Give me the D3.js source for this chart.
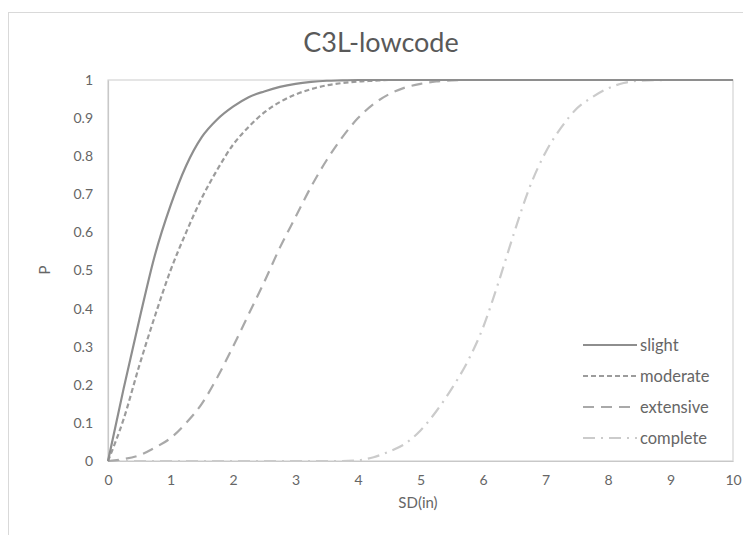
<!DOCTYPE html>
<html>
<head>
<meta charset="utf-8">
<script src="https://cdn.jsdelivr.net/npm/d3@7"></script>
<style>
  html, body { margin: 0; padding: 0; background: #ffffff; }
  svg { display: block; }
  text { font-family: Lato, "Open Sans", sans-serif; }
</style>
</head>
<body>
<svg id="chart" width="743" height="535"></svg>
<script>
// Fragility curves: probability of exceeding each damage state vs spectral displacement
const sd = [0, 0.25, 0.5, 0.75, 1, 1.25, 1.5, 1.75, 2, 2.25, 2.5, 2.75, 3, 3.25, 3.5, 3.75,
            4, 4.25, 4.5, 4.75, 5, 5.25, 5.5, 5.75, 6, 6.25, 6.5, 6.75, 7, 7.25, 7.5, 7.75,
            8, 8.25, 8.5, 9, 9.5, 10];

const slight = [0, 0.19, 0.37, 0.54, 0.67, 0.775, 0.85, 0.897, 0.93, 0.955, 0.97, 0.982, 0.99, 0.995, 0.998, 0.999,
                1, 1, 1, 1, 1, 1, 1, 1, 1, 1, 1, 1, 1, 1, 1, 1,
                1, 1, 1, 1, 1, 1];

const moderate = [0, 0.11, 0.25, 0.38, 0.5, 0.6, 0.69, 0.765, 0.83, 0.877, 0.915, 0.942, 0.962, 0.976, 0.986, 0.992,
                  0.996, 0.998, 1, 1, 1, 1, 1, 1, 1, 1, 1, 1, 1, 1, 1, 1,
                  1, 1, 1, 1, 1, 1];

const extensive = [0, 0.005, 0.015, 0.035, 0.06, 0.1, 0.15, 0.22, 0.3, 0.385, 0.47, 0.56, 0.64, 0.72, 0.79, 0.85,
                   0.9, 0.937, 0.963, 0.98, 0.99, 0.996, 0.999, 1, 1, 1, 1, 1, 1, 1, 1, 1,
                   1, 1, 1, 1, 1, 1];

const complete = [0, 0, 0, 0, 0, 0, 0, 0, 0, 0, 0, 0, 0, 0, 0, 0,
                  0.002, 0.01, 0.025, 0.045, 0.08, 0.13, 0.19, 0.26, 0.35, 0.47, 0.6, 0.72, 0.81, 0.875, 0.925, 0.955,
                  0.978, 0.992, 0.998, 1, 1, 1];

const seriesNames = ["slight", "moderate", "extensive", "complete"];
const xTicks = [0, 1, 2, 3, 4, 5, 6, 7, 8, 9, 10];
const yTicks = [0, 0.1, 0.2, 0.3, 0.4, 0.5, 0.6, 0.7, 0.8, 0.9, 1];

const series = [
  { name: seriesNames[0], values: slight,    color: "#8e8e8e", dash: null },
  { name: seriesNames[1], values: moderate,  color: "#9c9c9c", dash: "5,3" },
  { name: seriesNames[2], values: extensive, color: "#a9a9a9", dash: "11,7" },
  { name: seriesNames[3], values: complete,  color: "#cbcbcb", dash: "12,6,2,6" }
];

const svg = d3.select("#chart");
const plot = { left: 108, right: 733, top: 80, bottom: 461 };

const x = d3.scaleLinear().domain([0, 10]).range([plot.left, plot.right]);
const y = d3.scaleLinear().domain([0, 1]).range([plot.bottom, plot.top]);

// outer chart frame
svg.append("rect")
  .attr("x", 8.5).attr("y", 12.5)
  .attr("width", 760).attr("height", 540)
  .attr("fill", "none").attr("stroke", "#d9d9d9").attr("stroke-width", 1);

// plot frame
svg.append("rect")
  .attr("x", plot.left).attr("y", plot.top)
  .attr("width", plot.right - plot.left).attr("height", plot.bottom - plot.top)
  .attr("fill", "none").attr("stroke", "#d4d4d4").attr("stroke-width", 1.2);

// title
svg.append("text")
  .attr("x", 381).attr("y", 52)
  .attr("text-anchor", "middle")
  .attr("font-size", 27)
  .attr("fill", "#595959")
  .text("C3L-lowcode");

// axes
const xAxis = d3.axisBottom(x).tickValues(xTicks).tickSize(0).tickPadding(14).tickFormat(d3.format("d"));
const yAxis = d3.axisLeft(y).tickValues(yTicks).tickSize(0).tickPadding(15).tickFormat(d => d === 0 || d === 1 ? String(d) : d3.format(".1f")(d));

const gx = svg.append("g").attr("transform", `translate(0,${plot.bottom})`).call(xAxis);
const gy = svg.append("g").attr("transform", `translate(${plot.left},0)`).call(yAxis);
[gx, gy].forEach(g => {
  g.select(".domain").attr("stroke", "#c8c8c8").attr("stroke-width", 1.2);
  g.selectAll("text").attr("font-size", 14).attr("fill", "#666666")
    .style("font-family", "Lato, 'Open Sans', sans-serif");
});

// axis titles
svg.append("text")
  .attr("x", 418).attr("y", 508)
  .attr("text-anchor", "middle")
  .attr("font-size", 15).attr("fill", "#666666")
  .text("SD(in)");

svg.append("text")
  .attr("transform", "translate(50,270) rotate(-90)")
  .attr("text-anchor", "middle")
  .attr("font-size", 15).attr("fill", "#666666")
  .text("P");

// curves
const line = d3.line()
  .x((d, i) => x(sd[i]))
  .y(d => y(d))
  .curve(d3.curveMonotoneX);

svg.append("g").selectAll("path")
  .data(series.slice().reverse())
  .join("path")
  .attr("d", s => line(s.values))
  .attr("fill", "none")
  .attr("stroke", s => s.color)
  .attr("stroke-width", 2.2)
  .attr("stroke-dasharray", s => s.dash)
  .attr("stroke-linecap", "butt");

// legend
const legend = svg.append("g");
const rowY = d3.scaleLinear().domain([0, 3]).range([345, 438]);
series.forEach((s, i) => {
  const yy = rowY(i);
  legend.append("line")
    .attr("x1", 583).attr("x2", 637)
    .attr("y1", yy).attr("y2", yy)
    .attr("stroke", s.color).attr("stroke-width", 2.2)
    .attr("stroke-dasharray", s.dash);
  legend.append("text")
    .attr("x", 640).attr("y", yy)
    .attr("dy", "0.35em")
    .attr("font-size", 16.5).attr("fill", "#666666")
    .text(s.name);
});
</script>
</body>
</html>
